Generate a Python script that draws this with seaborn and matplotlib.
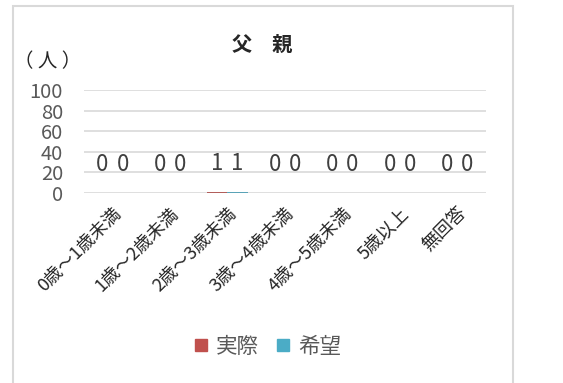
import pandas as pd
import numpy as np
import matplotlib.pyplot as plt
import seaborn as sns
from matplotlib.patches import Rectangle
from matplotlib.lines import Line2D

sns.set_style("white")
plt.rcParams['font.family'] = ['Noto Sans CJK JP', 'DejaVu Sans']

# データ
categories = ["0歳～1歳未満", "1歳～2歳未満", "2歳～3歳未満", "3歳～4歳未満",
              "4歳～5歳未満", "5歳以上", "無回答"]
actual = [0, 0, 1, 0, 0, 0, 0]
hope = [0, 0, 1, 0, 0, 0, 0]
series = ["実際", "希望"]
colors = ["#c0504d", "#4bacc6"]

df = pd.DataFrame({
    "区分": categories * 2,
    "人数": actual + hope,
    "系列": [series[0]] * len(categories) + [series[1]] * len(categories),
})

fig = plt.figure(figsize=(5.63, 3.83), dpi=100)
ax = fig.add_axes([0.149, 0.496, 0.714, 0.269])

sns.barplot(data=df, x="区分", y="人数", hue="系列", palette=colors,
            width=0.7, linewidth=0, ax=ax, legend=False, zorder=3)

ax.set_ylim(0, 100)
ax.set_yticks(np.arange(0, 101, 20))
ax.yaxis.grid(True, color="#d9d9d9", linewidth=1.2, zorder=0)
ax.set_axisbelow(True)
for s in ax.spines.values():
    s.set_visible(False)
ax.set_xlabel("")
ax.set_ylabel("")
ax.tick_params(axis="y", labelsize=14.5, labelcolor="#595959", length=0, pad=15)
ax.tick_params(axis="x", labelsize=13, length=0, pad=8)
plt.setp(ax.get_xticklabels(), rotation=45, ha="right", rotation_mode="anchor")

# データラベル
for cont in ax.containers:
    ax.bar_label(cont, padding=12, fontsize=16, color="#404040")

fig.text(0.465, 0.885, "父\u3000親", fontsize=14.5, fontweight="bold", ha="center", va="center")
fig.text(0.085, 0.84, "（ 人 ）", fontsize=14, ha="center", va="center")

handles = [Line2D([], [], marker="s", linestyle="", markersize=9,
                  markerfacecolor=c, markeredgecolor=c) for c in colors]
fig.legend(handles, series, loc="center", bbox_to_anchor=(0.474, 0.094),
           ncol=2, frameon=False, fontsize=15.5, labelcolor="#595959",
           handletextpad=0.3, columnspacing=0.7, handlelength=0.8)

# 外枠
fig.patches.append(Rectangle((0.023, -0.05), 0.888, 1.034, transform=fig.transFigure,
                             fill=False, edgecolor="#d9d9d9", linewidth=1.5))

plt.savefig("out.png", dpi=100)
